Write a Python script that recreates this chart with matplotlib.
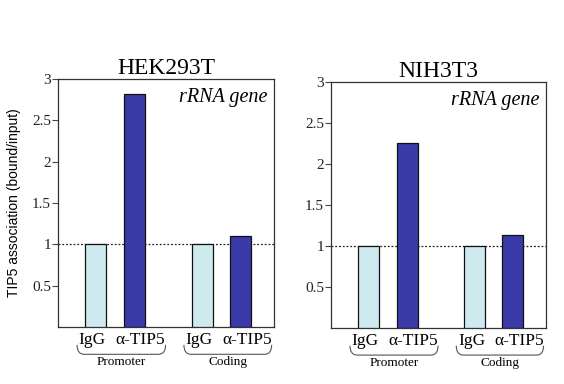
import matplotlib
matplotlib.use("Agg")
import matplotlib.pyplot as plt
import matplotlib.transforms as mtransforms
from matplotlib.path import Path
from matplotlib.patches import PathPatch

# data
cells = ["HEK293T", "NIH3T3"]
regions = ["Promoter", "Coding"]
antibodies = ["IgG", "\u03b1-TIP5"]
hek_values = [1.0, 2.82, 1.0, 1.10]
nih_values = [1.0, 2.26, 1.0, 1.13]
yticks = [0.5, 1, 1.5, 2, 2.5, 3]
ytick_labels = ["0.5", "1", "1.5", "2", "2.5", "3"]

light = "#cdeaee"
dark = "#3a3aa8"
serif = "Liberation Serif"

positions = [0, 1, 2.74, 3.72]
label_shift = [-0.08, 0.16]
colors = [light, dark, light, dark]

fig = plt.figure(figsize=(5.64, 3.84), dpi=100)
ax1 = fig.add_axes([0.1028, 0.1484, 0.383, 0.646])
ax2 = fig.add_axes([0.5869, 0.1458, 0.381, 0.6406])


def brace(ax, x0, x1, y_top, y_bot):
    trans = mtransforms.blended_transform_factory(ax.transData, ax.transAxes)
    rx = 0.18
    verts = [(x0, y_top), (x0, y_bot), (x0 + rx, y_bot),
             (x1 - rx, y_bot), (x1, y_bot), (x1, y_top)]
    codes = [Path.MOVETO, Path.CURVE3, Path.CURVE3,
             Path.LINETO, Path.CURVE3, Path.CURVE3]
    patch = PathPatch(Path(verts, codes), facecolor="none", edgecolor="#555555",
                      lw=0.8, transform=trans, clip_on=False)
    ax.add_patch(patch)


def panel(ax, values, title):
    ax.bar(positions, values, width=0.54, color=colors, edgecolor="#111111",
           linewidth=0.9, zorder=3)
    ax.axhline(1, color="#222222", linestyle=(0, (1.5, 1.5)), linewidth=0.9, zorder=2)
    ax.set_xlim(-0.96, 4.58)
    ax.set_ylim(0, 3)
    ax.set_xticks([])
    ax.set_yticks(yticks)
    ax.set_yticklabels(ytick_labels, fontfamily=serif, fontsize=11, color="#222222")
    ax.tick_params(axis="y", direction="out", length=4, width=0.8, pad=1,
                   color="#444444")
    for s in ax.spines.values():
        s.set_color("#333333")
        s.set_linewidth(0.9)
    ax.set_title(title, fontfamily=serif, fontsize=17, pad=0)
    ax.text(0.97, 0.965, "rRNA gene", transform=ax.transAxes, ha="right",
            va="top", fontfamily=serif, fontstyle="italic", fontsize=14.5)

    trans = mtransforms.blended_transform_factory(ax.transData, ax.transAxes)
    for i, x in enumerate(positions):
        ax.text(x + label_shift[i % 2], -0.022, antibodies[i % 2], transform=trans,
                ha="center", va="top", fontfamily=serif, fontsize=12.5)
    for g, name in enumerate(regions):
        left = positions[2 * g] - 0.47
        right = positions[2 * g + 1] + 0.8
        brace(ax, left, right, -0.072, -0.11)
        ax.text((left + right) / 2, -0.118, name, transform=trans, ha="center",
                va="top", fontfamily=serif, fontsize=9.5)


panel(ax1, hek_values, cells[0])
panel(ax2, nih_values, cells[1])
ax1.set_ylabel("TIP5 association (bound/input)", fontfamily="Liberation Sans",
               fontsize=10, labelpad=8)

fig.savefig("out.png", dpi=100)
